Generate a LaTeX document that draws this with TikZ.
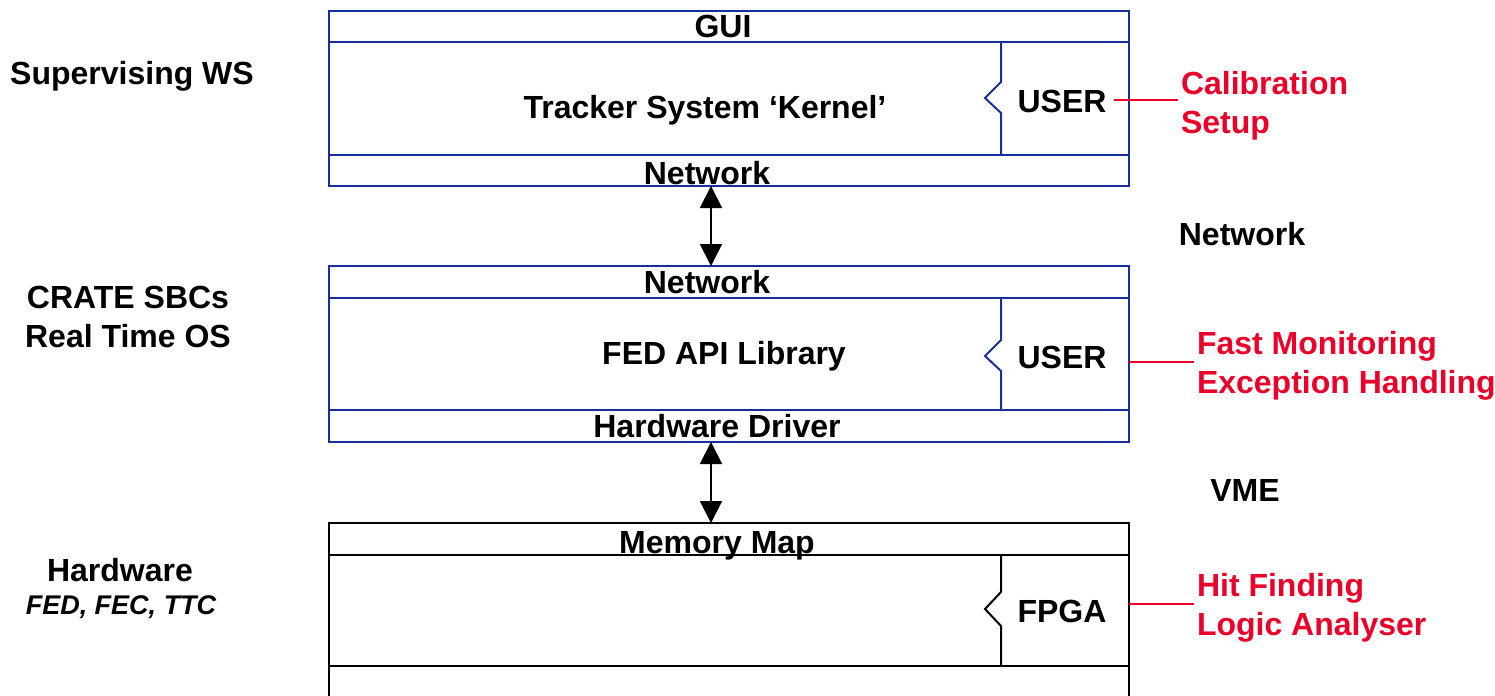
\documentclass[tikz,border=0pt]{standalone}
\usepackage{fontspec}
\setmainfont{Liberation Sans}
\usetikzlibrary{arrows.meta}
\definecolor{frame}{RGB}{22,46,160}
\definecolor{note}{RGB}{235,0,42}
\begin{document}
\begin{tikzpicture}[x=.5pt,y=-.5pt,line width=1pt,font=\bfseries\fontsize{16}{19.5}\selectfont,
every node/.style={text height=11.6pt,text depth=3.4pt},
side/.style={align=center,text height=,text depth=},
tag/.style={text=note,align=left,anchor=west,inner sep=1pt,text height=,text depth=},
lead/.style={draw=note},
dbl/.style={{Triangle[width=11pt,length=11pt]}-{Triangle[width=11pt,length=11pt]}}]
\useasboundingbox(0,0)rectangle(1495,696);
% supervising workstation
\draw[frame](329,11)rectangle(1129,186);
\draw[frame](329,42)--(1129,42)(329,155)--(1129,155);
\draw[frame](1001,42)--(1001,82)--(985,98)--(1001,113)--(1001,155);
\node(gui)at(723,29){GUI};
\node(kernel)at(705,110){Tracker System ‘Kernel’};
\node(user1)at(1062,104){USER};
\node(net1)at(707,176){Network};
% crate SBCs
\draw[frame](329,266)rectangle(1129,442);
\draw[frame](329,298)--(1129,298)(329,410)--(1129,410);
\draw[frame](1001,298)--(1001,340)--(985,356)--(1001,371)--(1001,410);
\node(net2)at(707,285){Network};
\node(fedapi)at(724,356){FED API Library};
\node(user2)at(1062,360){USER};
\node(hwdrv)at(717,429){Hardware Driver};
% hardware
\draw(329,710)--(329,523)--(1129,523)--(1129,710);
\draw(329,555)--(1129,555)(329,666)--(1129,666);
\draw(1001,555)--(1001,592)--(985,609)--(1001,626)--(1001,666);
\node(memmap)at(717,545){Memory Map};
\node(fpga)at(1062,614){FPGA};
% links between layers
\coordinate(ws-b)at(711,186);\coordinate(sbc-t)at(711,266);
\coordinate(sbc-b)at(711,442);\coordinate(hw-t)at(711,523);
\draw[dbl](ws-b)--(sbc-t);
\draw[dbl](sbc-b)--(hw-t);
\node(netlbl)at(1242,237){Network};
\node(vmelbl)at(1245,493){VME};
% layer names
\node(wslbl)at(132,76){Supervising WS};
\node[side](sbclbl)at(128,317){CRATE SBCs\\Real Time OS};
\node(hwlbl)at(120,573){Hardware};
\node[font=\bfseries\itshape\fontsize{13.5}{16}\selectfont,text height=9.8pt,text depth=2.8pt](hwlist)at(121,607){FED, FEC, TTC};
% user tasks
\node[tag](calib)at(1178,106){Calibration\\Setup};
\node[tag](fastmon)at(1194,366){Fast Monitoring\\Exception Handling};
\node[tag](hitfind)at(1194,608){Hit Finding\\Logic Analyser};
\coordinate(sbc-r)at(1129,362);\coordinate(hw-r)at(1129,604);
\draw[lead](user1.east|-0,100)--(calib.west|-0,100);
\draw[lead](sbc-r)--(fastmon.west|-sbc-r);
\draw[lead](hw-r)--(hitfind.west|-hw-r);
\end{tikzpicture}
\end{document}
